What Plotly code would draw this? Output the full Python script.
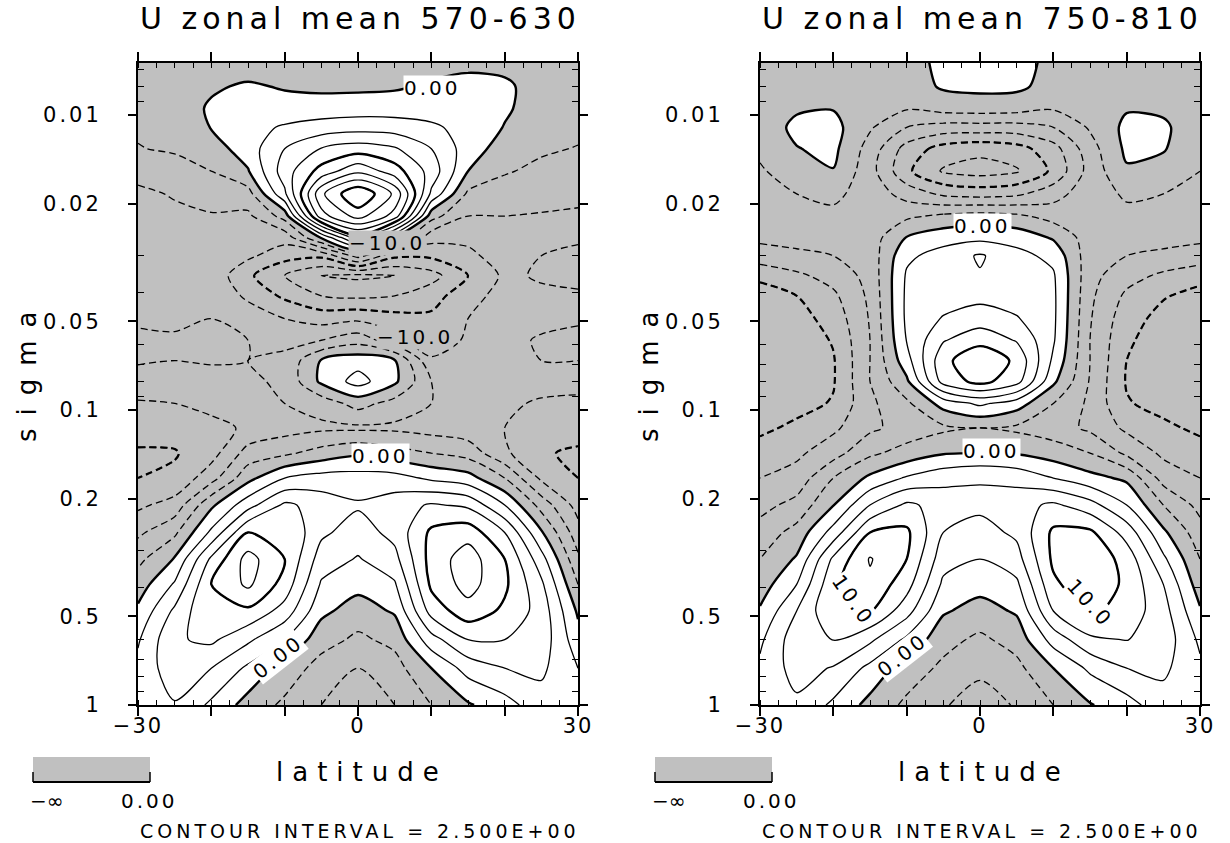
import math
import plotly.graph_objects as go

# ---------------- data ----------------
LAT = [-30, -25, -20, -15, -10, -5, 0, 5, 10, 15, 20, 25, 30]
SIGMA = [0.00664, 0.008, 0.0095, 0.011, 0.013, 0.0155, 0.0185, 0.022, 0.026, 0.03,
         0.035, 0.041, 0.049, 0.058, 0.068, 0.08, 0.095, 0.115, 0.14, 0.17,
         0.21, 0.26, 0.32, 0.39, 0.48, 0.6, 0.75, 1.0]

U_570_630 = [
    [-2.0, -1.8, -1.5, -1.2, -1.0, -1.0, -1.0, -1.0, -0.8, -0.6, -0.8, -1.5, -2.0],
    [-1.8, -1.3, -0.3, 0.3, -0.2, -0.5, -0.5, -0.3, 0.3, 0.8, 0.5, -1.2, -1.8],
    [-2.0, -1.2, 0.3, 0.6, 0.9, 1.1, 1.3, 1.3, 1.2, 1.0, 0.3, -1.0, -1.8],
    [-2.2, -1.5, 0.1, 1.6, 2.8, 3.6, 4.0, 3.8, 3.0, 1.5, -0.1, -1.2, -2.0],
    [-2.6, -2.2, -1.2, 1.3, 5.0, 7.6, 8.7, 7.8, 5.0, 1.3, -1.2, -2.2, -2.6],
    [-4.2, -3.5, -2.5, -0.2, 6.3, 11.0, 14.4, 11.2, 6.5, 0.0, -2.3, -3.0, -3.0],
    [-5.5, -4.8, -4.0, -3.5, 4.5, 17.0, 22.5, 17.0, 4.5, -3.0, -3.5, -4.0, -4.5],
    [-6.0, -5.5, -5.2, -5.5, -1.5, 14.0, 18.5, 14.0, -1.5, -5.0, -5.0, -5.2, -5.3],
    [-6.5, -6.0, -5.5, -6.5, -6.5, 0.3, 9.0, 0.0, -6.5, -7.0, -6.5, -6.8, -7.0],
    [-6.5, -6.2, -5.5, -7.0, -9.0, -9.5, -4.0, -9.5, -9.5, -8.0, -6.5, -7.5, -8.3],
    [-6.3, -6.0, -5.8, -9.5, -12.5, -15.0, -15.5, -15.0, -13.5, -10.0, -7.0, -7.8, -8.5],
    [-6.0, -5.8, -5.5, -8.0, -10.5, -12.5, -13.0, -12.5, -11.0, -8.5, -6.5, -7.0, -7.0],
    [-5.3, -5.3, -5.0, -6.0, -7.5, -8.5, -8.0, -9.0, -9.5, -7.5, -6.0, -5.5, -5.2],
    [-4.6, -4.8, -4.6, -5.0, -5.5, -5.0, -3.5, -6.5, -9.5, -7.0, -5.5, -4.8, -4.6],
    [-4.8, -5.0, -4.8, -5.0, -4.5, 0.2, 1.5, 0.2, -7.0, -6.5, -5.5, -5.0, -5.0],
    [-5.8, -6.0, -5.8, -5.5, -4.5, 0.5, 3.5, 0.5, -5.0, -6.0, -6.0, -6.0, -6.0],
    [-7.8, -7.5, -6.5, -6.0, -5.0, -4.0, -1.5, -3.5, -5.0, -5.5, -6.8, -8.0, -8.5],
    [-9.0, -9.0, -8.5, -7.0, -6.0, -5.5, -5.5, -5.5, -6.0, -6.5, -7.5, -9.0, -9.2],
    [-10.3, -10.2, -8.5, -4.0, -3.0, -1.5, -0.4, -1.5, -2.5, -3.5, -7.0, -9.8, -10.3],
    [-10.0, -9.5, -6.0, -0.8, 2.5, 3.5, 3.6, 3.5, 2.0, 1.0, -2.5, -8.0, -10.0],
    [-8.0, -6.5, -0.5, 4.0, 8.0, 6.5, 5.3, 6.3, 7.8, 7.0, 2.5, -3.5, -8.5],
    [-5.5, -3.0, 3.0, 10.0, 10.0, 5.5, 3.8, 5.8, 10.5, 11.5, 7.5, 0.3, -6.5],
    [-3.2, 0.2, 8.0, 13.5, 10.0, 3.8, 2.3, 4.2, 11.0, 13.8, 10.0, 3.5, -4.5],
    [-1.3, 2.8, 10.0, 13.0, 9.0, 2.2, 0.8, 2.2, 10.5, 13.5, 10.5, 5.5, -2.5],
    [0.5, 5.5, 10.0, 9.5, 6.5, 0.6, -1.2, 0.3, 8.5, 11.5, 9.5, 6.5, -0.4],
    [2.2, 7.2, 8.0, 5.5, 2.5, -1.5, -3.0, -1.8, 4.0, 7.5, 7.5, 6.5, 1.0],
    [3.2, 6.5, 5.0, 2.0, -1.0, -3.5, -5.0, -3.5, 0.0, 3.5, 5.0, 5.5, 2.5],
    [3.6, 4.8, 2.0, -1.0, -3.0, -5.0, -6.5, -5.0, -2.5, -0.3, 1.5, 4.0, 3.0],
]

U_750_810 = [
    [-1.0, -1.0, -1.0, -1.2, -0.8, 0.5, 1.0, 0.8, -0.6, -1.2, -1.0, -1.0, -1.0],
    [-1.0, -0.8, -0.6, -1.5, -1.2, 0.3, 0.6, 0.5, -0.9, -1.5, -0.6, -0.8, -1.0],
    [-1.2, -0.3, -0.1, -2.0, -2.3, -1.5, -1.3, -1.5, -2.3, -2.0, -0.2, -0.4, -1.2],
    [-1.5, 0.6, 0.8, -2.2, -5.0, -6.0, -6.0, -6.0, -5.0, -2.2, 0.6, 0.4, -1.5],
    [-2.0, -0.1, 0.6, -3.5, -8.5, -11.0, -11.8, -11.0, -8.5, -3.5, 0.5, 0.2, -2.0],
    [-2.8, -1.2, -0.1, -4.0, -9.5, -12.8, -13.5, -12.8, -9.5, -4.0, -0.3, -1.0, -2.5],
    [-3.2, -2.5, -2.0, -3.5, -6.0, -8.0, -8.5, -8.0, -6.0, -3.5, -2.2, -2.5, -3.0],
    [-3.5, -3.2, -3.0, -3.5, -3.0, -2.0, -1.5, -2.0, -3.5, -3.5, -3.0, -3.2, -3.5],
    [-4.5, -4.2, -4.0, -3.8, 0.1, 1.5, 1.8, 1.5, -0.3, -3.8, -4.0, -4.2, -4.5],
    [-6.0, -5.5, -5.0, -4.0, 2.0, 3.5, 5.3, 3.3, 1.8, -4.0, -5.0, -5.5, -6.0],
    [-9.5, -8.0, -6.5, -4.2, 2.8, 3.8, 4.8, 3.5, 2.8, -4.2, -6.5, -8.0, -9.2],
    [-11.0, -10.0, -8.0, -4.5, 3.0, 3.8, 4.3, 3.8, 3.0, -4.5, -8.0, -9.8, -10.8],
    [-11.8, -11.0, -9.0, -4.8, 3.0, 5.2, 6.2, 5.2, 3.0, -4.8, -9.0, -10.8, -11.5],
    [-12.2, -11.5, -9.8, -5.0, 2.6, 7.3, 9.2, 7.3, 2.8, -5.0, -9.6, -11.3, -12.0],
    [-12.4, -11.8, -10.2, -5.0, 1.5, 9.3, 12.0, 9.5, 2.0, -5.0, -10.0, -11.6, -12.2],
    [-12.2, -11.5, -10.2, -5.0, -0.5, 8.5, 10.8, 8.5, 0.5, -5.2, -10.2, -11.5, -12.2],
    [-11.5, -10.8, -9.8, -5.5, -3.0, 1.0, 3.0, 1.2, -2.5, -5.5, -9.8, -10.8, -11.6],
    [-10.5, -9.5, -8.0, -5.5, -4.0, -3.0, -2.5, -3.0, -3.8, -5.5, -8.0, -9.5, -10.5],
    [-9.0, -8.0, -6.0, -3.0, -1.5, -0.2, 0.1, -0.2, -1.2, -2.5, -5.5, -8.0, -9.0],
    [-7.5, -6.5, -2.5, 0.5, 2.8, 4.2, 4.8, 4.2, 2.5, 0.8, -0.5, -6.0, -7.5],
    [-5.8, -4.2, -0.1, 5.0, 8.0, 6.5, 5.6, 6.5, 8.0, 6.0, 2.5, -2.5, -5.8],
    [-4.0, -1.6, 3.5, 10.0, 10.5, 5.0, 4.0, 5.5, 10.5, 10.5, 6.5, 0.5, -4.0],
    [-2.5, 0.3, 8.0, 12.7, 10.0, 3.5, 2.5, 4.0, 10.5, 12.0, 9.0, 3.0, -2.5],
    [-1.3, 2.5, 9.5, 12.0, 8.5, 2.0, 0.9, 2.0, 9.5, 11.8, 9.5, 5.0, -1.3],
    [0.3, 5.0, 9.8, 10.2, 6.0, 0.3, -1.0, 0.3, 7.5, 10.5, 9.0, 6.0, 0.3],
    [2.0, 6.5, 7.6, 5.5, 2.0, -1.7, -3.0, -1.5, 3.5, 7.0, 7.6, 6.5, 2.0],
    [3.0, 6.0, 4.8, 1.8, -1.2, -3.0, -4.5, -3.2, 0.0, 3.0, 5.0, 5.5, 3.0],
    [3.5, 4.5, 2.0, -0.8, -3.0, -4.8, -6.0, -4.8, -2.5, -0.2, 1.5, 4.0, 3.5],
]

TITLES = ["U zonal mean 570-630", "U zonal mean 750-810"]
X_TICKS = [-30, -20, -10, 0, 10, 20, 30]
X_TICK_TEXT = ["\u221230", "", "", "0", "", "", "30"]
Y_TICKS = [0.01, 0.02, 0.05, 0.1, 0.2, 0.5, 1]
Y_TICK_TEXT = ["0.01", "0.02", "0.05", "0.1", "0.2", "0.5", "1"]
Y_MINOR = [0.007, 0.008, 0.009, 0.03, 0.04, 0.06, 0.07, 0.08, 0.09,
           0.3, 0.4, 0.6, 0.7, 0.8, 0.9]
SIG_TOP = 0.00666
CONTOUR_INTERVAL = 2.5
# contour labels: (text, lat, sigma, angle, background)
LABELS_1 = [("0.00", 10.2, 0.0081, 0, "white"), ("\u221210.0", 4.0, 0.0272, 0, "gray"),
            ("\u221210.0", 7.8, 0.0566, 0, "gray"), ("0.00", 3.1, 0.143, 0, "white"),
            ("0.00", -10.9, 0.69, -38, "white")]
LABELS_2 = [("0.00", 0.3, 0.0238, 0, "white"), ("0.00", 1.5, 0.138, 0, "white"),
            ("10.0", -17.3, 0.44, 55, "white"), ("10.0", 15.0, 0.45, 48, "white"),
            ("0.00", -10.6, 0.677, -38, "white")]

# ---------------- style ----------------
W, H = 1230, 843
FONT = "DejaVu Sans"
GRAY = "#c0c0c0"
PANELS_PX = [(138, 578), (760, 1200)]
TOP_PX, BOT_PX = 63, 705
DASH = "7px,4px"


def sp(text, px):
    return f'<span style="letter-spacing:{px}px">{text}</span>'


def px_x(x):
    return x / W


def px_y(y):
    return 1 - y / H


def paper_text(x, y, text, size, angle=0):
    fig.add_annotation(x=px_x(x), y=px_y(y), xref="paper", yref="paper",
                       xanchor="center", yanchor="middle", text=text,
                       showarrow=False, textangle=angle,
                       font=dict(family=FONT, size=size, color="black"))


fig = go.Figure()

panels = [U_570_630, U_750_810]
labels = [LABELS_1, LABELS_2]
for i, z in enumerate(panels):
    xa = "x" if i == 0 else "x2"
    ya = "y" if i == 0 else "y2"
    common = dict(x=LAT, y=SIGMA, z=z, xaxis=xa, yaxis=ya, showscale=False,
                  hoverinfo="skip", autocontour=False)
    # shading: negative values grey
    fig.add_trace(go.Contour(
        **common,
        contours=dict(start=-100, end=100, size=100, coloring="fill", showlines=False),
        colorscale=[[0, GRAY], [0.5, GRAY], [0.5, "white"], [1, "white"]],
        line=dict(width=0, smoothing=0.8)))

    def add_lines(start, end, size, width, dash):
        fig.add_trace(go.Contour(
            **common,
            contours=dict(start=start, end=end, size=size, coloring="none"),
            line=dict(color="black", width=width, dash=dash, smoothing=0.8)))

    add_lines(-40, -CONTOUR_INTERVAL, CONTOUR_INTERVAL, 1.3, DASH)
    add_lines(-40, -10, 10, 2.2, DASH)
    add_lines(CONTOUR_INTERVAL, 40, CONTOUR_INTERVAL, 1.3, "solid")
    add_lines(0, 40, 10, 2.4, "solid")

    for (t, la, sg, ang, bg) in labels[i]:
        fig.add_annotation(x=la, y=math.log10(sg), xref=xa, yref=ya, text=sp(t, 3),
                           xanchor="center", yanchor="middle",
                           showarrow=False, textangle=ang,
                           bgcolor=("white" if bg == "white" else GRAY), borderpad=0,
                           font=dict(family=FONT, size=20, color="black"))

ydom = [px_y(BOT_PX), px_y(TOP_PX)]
for i, (x0, x1) in enumerate(PANELS_PX):
    xkey = "xaxis" if i == 0 else "xaxis2"
    ykey = "yaxis" if i == 0 else "yaxis2"
    fig.update_layout(**{
        xkey: dict(domain=[px_x(x0), px_x(x1)], range=[-30, 30], anchor="y" if i == 0 else "y2",
                   automargin=False,
                   tickmode="array", tickvals=X_TICKS,
                   ticktext=[sp(t, 2) if t else "" for t in X_TICK_TEXT],
                   ticks="outside", ticklen=9, tickwidth=1.5, tickcolor="black",
                   showline=True, linecolor="black", linewidth=2, mirror="allticks",
                   showgrid=False, zeroline=False, ticklabelstandoff=-8,
                   tickfont=dict(family=FONT, size=21, color="black"),
                   minor=dict(tickmode="linear", tick0=-30, dtick=2.5, ticks="inside",
                              ticklen=5, tickwidth=1, tickcolor="black", showgrid=False)),
        ykey: dict(domain=ydom, type="log", range=[0, math.log10(SIG_TOP)],
                   anchor="x" if i == 0 else "x2", automargin=False,
                   tickmode="array", tickvals=Y_TICKS,
                   ticktext=[sp(t, 3) for t in Y_TICK_TEXT],
                   ticks="outside", ticklen=8, tickwidth=1.5, tickcolor="black",
                   showline=True, linecolor="black", linewidth=2, mirror="allticks",
                   showgrid=False, zeroline=False, ticklabelstandoff=22,
                   tickfont=dict(family=FONT, size=21, color="black"),
                   minor=dict(tickmode="array", tickvals=Y_MINOR, ticks="inside",
                              ticklen=6, tickwidth=1, tickcolor="black", showgrid=False)),
    })
    cx = (x0 + x1) / 2
    paper_text(cx + 2, 18, sp(TITLES[i], 5), 30)
    paper_text(cx + 4, 772, sp("latitude", 9), 26)
    paper_text(x0 - 111, 370, sp("sigma", 13), 26, angle=-90)
    paper_text(cx + 2, 831, sp("CONTOUR INTERVAL = 2.500E+00", 4), 19)
    # shading key
    lx0, lx1 = x0 - 105, x0 + 12
    fig.add_shape(type="rect", xref="paper", yref="paper",
                  x0=px_x(lx0), x1=px_x(lx1), y0=px_y(782), y1=px_y(757),
                  fillcolor=GRAY, line=dict(width=0))
    fig.add_shape(type="line", xref="paper", yref="paper",
                  x0=px_x(lx0), x1=px_x(lx1), y0=px_y(782), y1=px_y(782),
                  line=dict(color="black", width=2))
    for xx in (lx0, lx1):
        fig.add_shape(type="line", xref="paper", yref="paper",
                      x0=px_x(xx), x1=px_x(xx), y0=px_y(782), y1=px_y(772),
                      line=dict(color="black", width=1.5))
    paper_text(lx0 + 13, 801, "\u2212\u221e", 20)
    paper_text(lx1 - 1, 801, sp("0.00", 3), 20)

fig.update_layout(width=W, height=H, margin=dict(l=0, r=0, t=0, b=0),
                  paper_bgcolor="white", plot_bgcolor="white", showlegend=False)

fig.write_html("out.html")
